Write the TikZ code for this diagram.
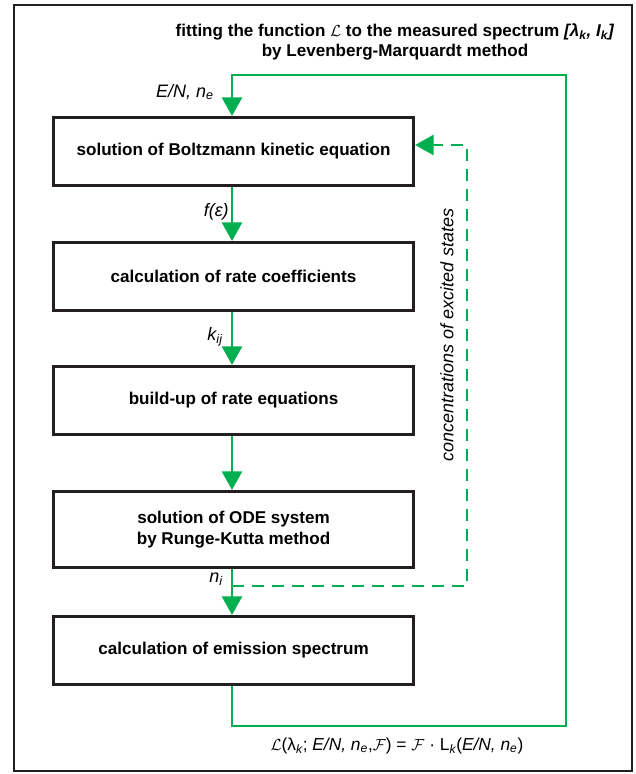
\documentclass[tikz,border=0pt]{standalone}
\usepackage{fontspec}
\setmainfont{Liberation Sans}
\usetikzlibrary{arrows.meta}
\definecolor{grn}{HTML}{00B050}
\definecolor{ink}{HTML}{231F20}
\begin{document}
\begin{tikzpicture}[x=0.75pt,y=-0.75pt,
  stepbox/.style={draw=ink,line width=2.3pt,minimum width=270pt,fill=white,font=\bfseries\fontsize{12.8}{15.5}\selectfont,align=center,inner sep=0pt},
  flow/.style={draw=grn,line width=2.2pt,-{Triangle[length=14pt,width=15pt]}},
  dashflow/.style={draw=grn,line width=2.2pt,dash pattern=on 9pt off 6pt},
  lbl/.style={font=\itshape\fontsize{13.5}{16}\selectfont,inner sep=0pt}]
\useasboundingbox (0,0) rectangle (635,774);
\draw[ink,line width=1.9pt] (14,5) rectangle (632,771);
% boxes
\node[stepbox,minimum height=51pt,anchor=north west] (b1) at (52,116) {solution of Boltzmann kinetic equation};
\node[stepbox,minimum height=51pt,anchor=north west] (b2) at (52,241) {calculation of rate coefficients};
\node[stepbox,minimum height=51pt,anchor=north west] (b3) at (52,365) {build-up of rate equations};
\node[stepbox,minimum height=57pt,anchor=north west] (b4) at (52,490) {solution of ODE system\\by Runge-Kutta method};
\node[stepbox,minimum height=51pt,anchor=north west] (b5) at (52,615) {calculation of emission spectrum};
% coordinates
\coordinate (t0) at (232,75);
\coordinate (tr) at (566,75);
\coordinate (br) at (566,726);
\coordinate (bl) at (232,726);
\coordinate (nd) at (232,586);
\coordinate (dr) at (467,586);
\coordinate (du) at (467,145);
% main flow
\draw[flow] (b1.south -| t0) -- (b2.north -| t0);
\draw[flow] (b2.south -| t0) -- (b3.north -| t0);
\draw[flow] (b3.south -| t0) -- (b4.north -| t0);
\draw[flow] (b4.south -| t0) -- (b5.north -| t0);
% feedback loop
\draw[flow] (b5.south -| t0) -- (bl) -- (br) -- (tr) -- (t0) -- (b1.north -| t0);
% dashed
\draw[dashflow] (nd) -- (dr) -- (du) -- ([xshift=16pt]b1.east |- du);
\draw[flow] ([xshift=16pt]b1.east |- du) -- (b1.east |- du);
% labels
\node[lbl,anchor=east] (l1) at (214,92) {E/N, n\textsubscript{e}};
\node[lbl,anchor=east] (l2) at (229,212) {f(ε)};
\node[lbl,anchor=east] (l3) at (223,337) {k\textsubscript{ij}};
\node[lbl,anchor=east] (l4) at (223,579) {n\textsubscript{i}};
\node[lbl,rotate=90] (l5) at (447,335) {concentrations of excited states};
\node[font=\bfseries\fontsize{12.8}{15.5}\selectfont,align=center] (top) at (395,42) {fitting the function $\mathcal{L}$ to the measured spectrum \textit{[λ\textsubscript{k}, I\textsubscript{k}]}\\by Levenberg-Marquardt method};
\node[lbl,font=\fontsize{13}{16}\selectfont] (bot) at (397,746) {$\mathcal{L}$(λ\textsubscript{\itshape k}; \textit{E/N, n\textsubscript{e}},$\mathcal{F}$) = $\mathcal{F}$ · L\textsubscript{\itshape k}(\textit{E/N, n\textsubscript{e}})};
\end{tikzpicture}
\end{document}
